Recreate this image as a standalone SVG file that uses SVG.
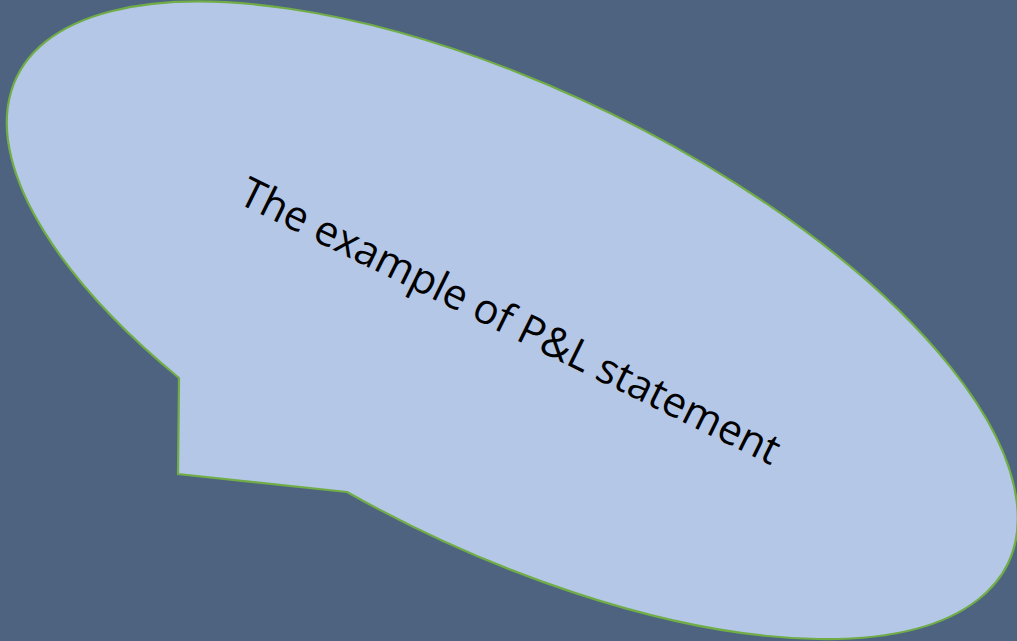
<svg xmlns="http://www.w3.org/2000/svg" width="1017" height="641" viewBox="0 0 1017 641">
<style>
.bubble{fill:#B4C7E7;stroke:#70AD47;stroke-width:2.2;stroke-linejoin:miter}
.label{font-family:"Open Sans","Noto Sans",sans-serif;font-size:42px;fill:#000}
</style>
<rect width="1017" height="641" fill="#4E6380"/>
<g id="callout">
<path class="bubble" d="M179,378 L178,474 L347,492 A552,229 26.2 1 0 179,378 Z"/>
<text class="label" transform="translate(504,334) rotate(26.2)" x="0" y="0" text-anchor="middle" textLength="596" lengthAdjust="spacingAndGlyphs">The example of P&amp;L statement</text>
</g>
<g id="connectors"/>
</svg>
